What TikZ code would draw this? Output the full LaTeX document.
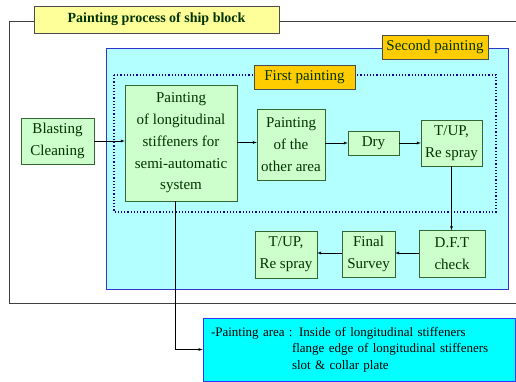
\documentclass[tikz,border=0pt]{standalone}
\usepackage{fontspec}
\setmainfont{Liberation Serif}
\newfontfamily\tnr{Liberation Serif}
\definecolor{boxgreen}{HTML}{CCFFCC}
\definecolor{linegreen}{HTML}{336633}
\definecolor{textgreen}{HTML}{003300}
\definecolor{lightcyan}{HTML}{B3FFFF}
\definecolor{edgeblue}{HTML}{3333CC}
\definecolor{dotblue}{HTML}{000099}
\definecolor{notecyan}{HTML}{00FFFF}
\definecolor{labelorange}{HTML}{FFCC00}
\definecolor{titleyellow}{HTML}{FFFF99}
\begin{document}
\begin{tikzpicture}[x=1pt,y=-1pt,>=latex,
  stepbox/.style={rectangle,draw=linegreen,fill=boxgreen,text=textgreen,align=center,inner sep=0pt,
    font=\tnr\fontsize{15}{21.7}\selectfont},
  tagbox/.style={rectangle,draw=black!70,fill=labelorange,text=textgreen,inner sep=0pt,
    font=\tnr\fontsize{15}{18}\selectfont}]
\useasboundingbox (0,0) rectangle (516,381);

\draw[black!75] (516,21) -- (9,21) -- (9,303) -- (516,303);
\node[rectangle,draw=black!70,fill=titleyellow,text=textgreen,minimum width=245pt,minimum height=27pt,
  font=\tnr\fontsize{14}{17}\selectfont\bfseries] (title) at (156.5,19.5) {Painting process of ship block};

\draw[edgeblue,fill=lightcyan] (106,48) rectangle (508,289);
\draw[dotblue,dotted,line width=1.2pt] (114,75) rectangle (496,212);
\node[tagbox,minimum width=106pt,minimum height=24pt] (second) at (435,47) {Second painting};
\node[tagbox,minimum width=101pt,minimum height=24pt] (first) at (304.5,77) {First painting};

\node[stepbox,minimum width=73pt,minimum height=46pt] (blast) at (57.5,141) {Blasting\\Cleaning};
\node[stepbox,minimum width=112pt,minimum height=116pt] (paint) at (181,143) {Painting\\of longitudinal\\stiffeners for\\semi-automatic\\system};
\node[stepbox,minimum width=68pt,minimum height=71pt] (other) at (291,144.5) {Painting\\of the\\other area};
\node[stepbox,minimum width=51pt,minimum height=24pt] (dry) at (373.5,143) {Dry};
\node[stepbox,minimum width=61pt,minimum height=46pt] (tup) at (451.5,143) {T/UP,\\Re spray};
\node[stepbox,minimum width=66pt,minimum height=47pt] (dft) at (452,254) {D.F.T\\check};
\node[stepbox,minimum width=53pt,minimum height=46pt] (final) at (368.5,254) {Final\\Survey};
\node[stepbox,minimum width=62pt,minimum height=47pt] (tup2) at (286,254.5) {T/UP,\\Re spray};

\node[rectangle,draw=blue!80,fill=notecyan,line width=0.8pt,minimum width=312pt,minimum height=63pt,
  align=left,text width=296pt,inner sep=0pt,font=\tnr\fontsize{13}{16.5}\selectfont] (note) at (359,349.5)
  {-Painting area : Inside of longitudinal stiffeners\\
   \hspace*{81pt}flange edge of longitudinal stiffeners\\
   \hspace*{81pt}slot \& collar plate};

\draw[->] (blast.east) -- (blast.east -| paint.west);
\draw[->] (paint.east |- 0,142.5) -- (other.west |- 0,142.5);
\draw[->] (other.east |- dry) -- (dry.west);
\draw[->] (dry.east) -- (dry.east -| tup.west);
\draw[->] (tup.south) -- (tup.south |- dft.north);
\draw[->] (dft.west |- 0,253) -- (final.east |- 0,253);
\draw[->] (final.west |- 0,253) -- (tup2.east |- 0,253);
\draw[->] ([xshift=-6pt]paint.south) |- (note.west);
\end{tikzpicture}
\end{document}
